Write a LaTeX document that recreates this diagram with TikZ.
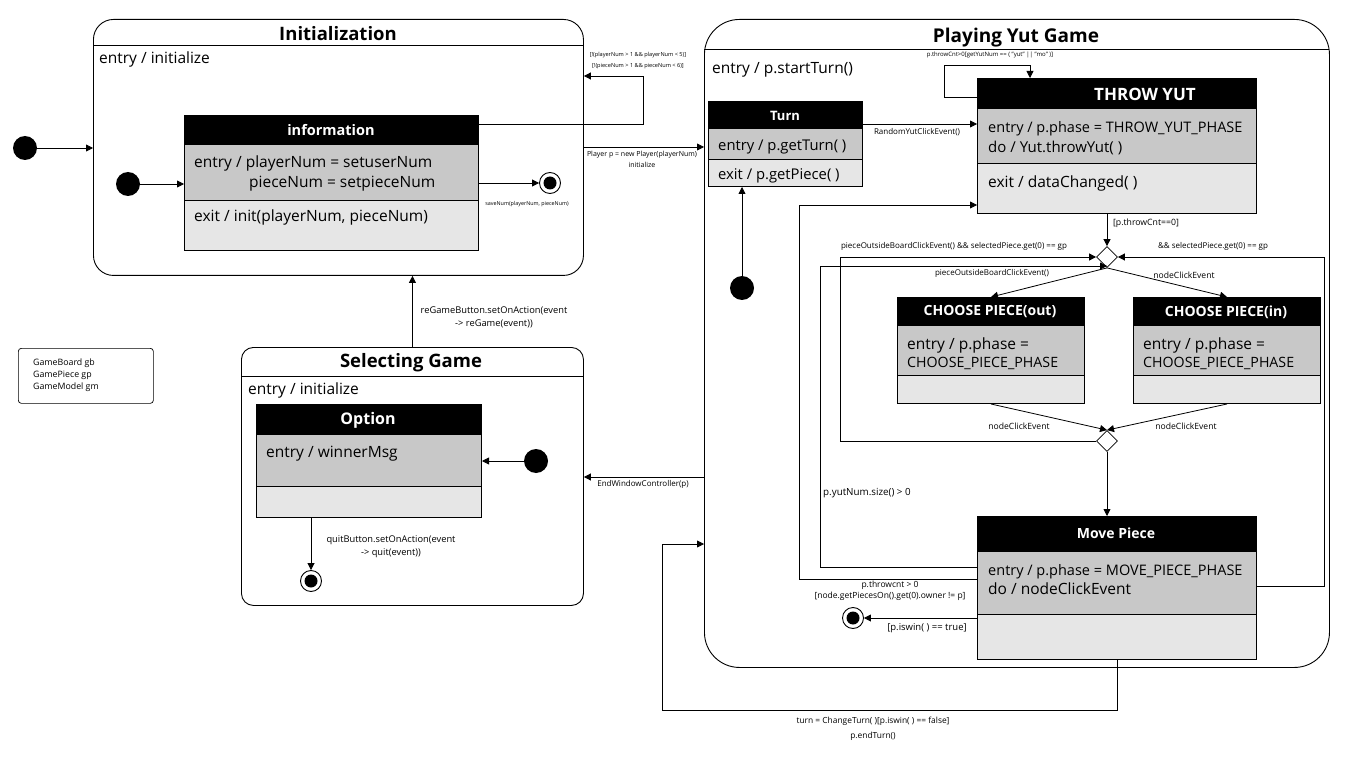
\documentclass[tikz,border=0pt]{standalone}
\usepackage{fontspec}
\setmainfont{Open Sans}
\usetikzlibrary{arrows.meta,calc,shapes.geometric}
\definecolor{midg}{RGB}{200,200,200}
\definecolor{lightg}{RGB}{230,230,230}
\newcommand\umlbox[7]{%
  \fill[black] (#2,#3) rectangle ++(#4,#5);
  \fill[midg] (#2,#3+#5) rectangle ++(#4,#6);
  \fill[lightg] (#2,#3+#5+#6) rectangle ++(#4,#7);
  \draw[line width=0.8pt] (#2,#3+#5+#6) -- ++(#4,0);
  \node[draw, line width=1pt, inner sep=0, minimum width=#4, minimum height=#5+#6+#7, anchor=north west] (#1) at (#2,#3) {};
}
\tikzset{
  arr/.style={line width=0.8pt,-{Triangle[length=7pt,width=7pt]}},
  ln/.style={line width=0.8pt},
  bigstate/.style={draw, line width=0.9pt, fill=white, inner sep=0, anchor=north west},
  ttl/.style={font=\fontsize{18.5}{20}\selectfont\bfseries, inner sep=0, yshift=-1pt},
  body/.style={font=\fontsize{15.5}{17}\selectfont, anchor=west, inner sep=0, yshift=-2.5pt},
  capsbody/.style={body, font=\fontsize{14.5}{17}\selectfont},
  lbl/.style={font=\fontsize{8}{9.6}\selectfont, inner sep=0, align=center},
  tinylbl/.style={font=\fontsize{5.6}{6.5}\selectfont, inner sep=0, align=center},
  hdrtext/.style={text=white, inner sep=0},
  initdot/.style={circle, fill=black, minimum size=24pt, inner sep=0},
  finalst/.style={circle, draw, line width=0.9pt, fill=white, minimum size=21pt, inner sep=0,
    path picture={\fill[black] (path picture bounding box.center) circle (6.5pt);}},
  choice/.style={diamond, draw, line width=0.8pt, fill=white, minimum size=21pt, inner sep=0},
}
\begin{document}
\begin{tikzpicture}[x=1pt,y=-1pt]
\fill[white] (0,0) rectangle (1365,767);
\useasboundingbox (0,0) rectangle (1365,767);

% ---------- Initialization ----------
\node[bigstate, rounded corners=20pt, minimum width=490, minimum height=256] (init) at (93,19) {};
\draw[ln] (93,45) -- (583,45);
\node[ttl] (initT) at (338,33) {Initialization};
\node[body] (initE) at (99,57) {entry / initialize};
\umlbox{info}{184}{115}{294}{30}{55}{50}
\node[hdrtext, font=\fontsize{14.5}{16}\selectfont\bfseries] (infoT) at (331,130) {information};
\node[body] (infoE1) at (194,161) {entry / playerNum = setuserNum};
\node[body] (infoE2) at (249,181) {pieceNum = setpieceNum};
\node[body] (infoX) at (194,215) {exit / init(playerNum, pieceNum)};
\node[initdot] (i1) at (25,148) {};
\node[initdot] (i2) at (128,184) {};
\node[finalst] (f1) at (550,183) {};
\node[tinylbl, font=\fontsize{5.4}{6.5}\selectfont] (lsave) at (527,204) {saveNum(playerNum, pieceNum)};

% ---------- Selecting Game ----------
\node[bigstate, rounded corners=12pt, minimum width=342, minimum height=258] (sel) at (241,347) {};
\draw[ln] (241,376) -- (583,376);
\node[ttl] (selT) at (411,362) {Selecting Game};
\node[body] (selE) at (248,388) {entry / initialize};
\umlbox{opt}{256}{404}{225}{31}{51}{31}
\node[hdrtext, font=\fontsize{16}{18}\selectfont\bfseries] (optT) at (368,420) {Option};
\node[body] (optE) at (266,451) {entry / winnerMsg};
\node[initdot] (i4) at (536,461) {};
\node[finalst] (f4) at (311,581) {};
\node[lbl, font=\fontsize{9.3}{13}\selectfont] (lquit) at (391,547) {quitButton.setOnAction(event\\ -> quit(event))};

% ---------- legend ----------
\node[draw, line width=0.7pt, rounded corners=3pt, minimum width=135, minimum height=55, anchor=north west, inner sep=0] (legend) at (18,348) {};
\node[font=\fontsize{8.8}{12}\selectfont, align=left, anchor=north west, inner sep=0] (legendT) at (33,359) {GameBoard gb\\GamePiece gp\\GameModel gm};

% ---------- Playing Yut Game ----------
\node[bigstate, rounded corners=35pt, minimum width=625, minimum height=648] (play) at (704,19) {};
\draw[ln] (704,49) -- (1329,49);
\node[ttl, font=\fontsize{19}{21}\selectfont\bfseries] (playT) at (1016,37) {Playing Yut Game};
\node[body] (playE) at (712,67) {entry / p.startTurn()};

\umlbox{turn}{708}{101}{154}{28}{30}{27}
\node[hdrtext, font=\fontsize{13}{15}\selectfont\bfseries] (turnT) at (785,116) {Turn};
\node[body, font=\fontsize{14.8}{17}\selectfont] (turnE) at (718,144) {entry / p.getTurn( )};
\node[body, font=\fontsize{14.8}{17}\selectfont] (turnX) at (718,173) {exit / p.getPiece( )};
\node[initdot] (i3) at (742,288) {};

\umlbox{throw}{977}{78}{279}{31}{54}{50}
\node[hdrtext, font=\fontsize{17}{19}\selectfont\bfseries] (throwT) at (1145,94) {THROW YUT};
\node[capsbody] (throwE) at (988,126) {entry / p.phase = THROW\_YUT\_PHASE};
\node[body, font=\fontsize{15}{17}\selectfont] (throwD) at (988,145) {do / Yut.throwYut( )};
\node[body] (throwX) at (988,181) {exit / dataChanged( )};

\umlbox{cout}{897}{297}{187}{29}{49}{28}
\node[hdrtext, font=\fontsize{14}{16}\selectfont\bfseries] (coutT) at (990,312) {CHOOSE PIECE(out)};
\node[body] (coutE1) at (907,343) {entry / p.phase =};
\node[capsbody, font=\fontsize{14.2}{17}\selectfont] (coutE2) at (907,361) {CHOOSE\_PIECE\_PHASE};

\umlbox{cin}{1133}{297}{187}{29}{49}{28}
\node[hdrtext, font=\fontsize{14}{16}\selectfont\bfseries] (cinT) at (1226,312) {CHOOSE PIECE(in)};
\node[body] (cinE1) at (1143,343) {entry / p.phase =};
\node[capsbody, font=\fontsize{14.2}{17}\selectfont] (cinE2) at (1143,361) {CHOOSE\_PIECE\_PHASE};

\umlbox{move}{977}{516}{279}{36}{62}{45}
\node[hdrtext, font=\fontsize{14}{16}\selectfont\bfseries] (moveT) at (1116,533) {Move Piece};
\node[capsbody] (moveE) at (988,569) {entry / p.phase = MOVE\_PIECE\_PHASE};
\node[body] (moveD) at (988,586) {do / nodeClickEvent};
\node[finalst] (f3) at (853,618) {};

\node[choice] (d1) at (1107,257) {};
\node[choice] (d2) at (1107,441) {};

% ---------- coordinates ----------
\coordinate (c1a) at (643,124);
\coordinate (c1b) at (643,76);
\coordinate (c2) at (640,147);
\coordinate (c3) at (920,124);
\coordinate (c4a) at (944,97);
\coordinate (c4b) at (944,65);
\coordinate (c4c) at (1030,65);
\coordinate (c5) at (840,257);
\coordinate (c6a) at (820,567);
\coordinate (c6b) at (820,266);
\coordinate (c7a) at (1324,586);
\coordinate (c7b) at (1324,257);
\coordinate (c8a) at (799,579);
\coordinate (c8b) at (799,205);
\coordinate (c9a) at (1117,710);
\coordinate (c9b) at (662,710);
\coordinate (c9c) at (662,544);
\coordinate (c10) at (640,477);

% ---------- connectors ----------
\draw[arr] (i1) -- (init.west |- i1);
\draw[arr] (i2) -- (info.west |- i2);
\draw[arr] (info.east |- f1) -- (f1);
\draw[arr] (info.east |- c1a) -- (c1a) -- (c1b) -- (init.east |- c1b);
\draw[arr] (init.east |- c2) -- (play.west |- c2);
\draw[arr] (sel.north) -- (sel.north |- init.south);
\draw[arr] (i4) -- (opt.east |- i4);
\draw[arr] (opt.south -| f4) -- (f4);
\draw[arr] (play.west |- c10) -- (sel.east |- c10);

\draw[arr] (i3) -- (i3 |- turn.south);
\draw[arr] (turn.east |- c3) -- (throw.west |- c3);
\draw[arr] (throw.west |- c4a) -- (c4a) -- (c4b) -- (c4c) -- (c4c |- throw.north);
\draw[arr] (throw.south -| d1) -- (d1);
\draw[arr] (d1.south) -- (cout.north);
\draw[arr] (d1.south) -- (cin.north);
\draw[arr] (cout.south) -- (d2.north);
\draw[arr] (cin.south) -- (d2.north);
\draw[arr] (d2.south) -- (d2.south |- move.north);
\draw[arr] (d2.west) -- (d2.west -| c5) -- (c5) -- (d1.west);
\draw[arr] (move.west |- c6a) -- (c6a) -- (c6b) -- (c6b -| d1.south);
\draw[arr] (move.east |- c7a) -- (c7a) -- (c7b) -- (d1.east);
\draw[arr] (move.west |- c8a) -- (c8a) -- (c8b) -- (throw.west |- c8b);
\draw[arr] (move.west |- f3) -- (f3);
\draw[arr] (move.south -| c9a) -- (c9a) -- (c9b) -- (c9c) -- (play.west |- c9c);

% ---------- labels ----------
\node[tinylbl] (lguard1) at (638,55) {[!(playerNum > 1 \&\& playerNum < 5)]};
\node[tinylbl] (lguard2) at (638,66) {[!(pieceNum > 1 \&\& pieceNum < 6)]};
\node[lbl, font=\fontsize{7}{11}\selectfont] (lplayer) at (642,159) {Player p = new Player(playerNum)\\initialize};
\node[lbl, font=\fontsize{9.3}{13}\selectfont] (lregame) at (494,317) {reGameButton.setOnAction(event\\ -> reGame(event))};
\node[lbl] (lend) at (643,484) {EndWindowController(p)};
\node[lbl] (lrandom) at (917,132) {RandomYutClickEvent()};
\node[lbl, font=\fontsize{6}{7}\selectfont] (lthrowloop) at (990,55) {p.throwCnt>0[getYutNum == ( "yut" || "mo" )]};
\node[lbl, font=\fontsize{8.7}{10}\selectfont] (lcnt0) at (1146,223) {[p.throwCnt==0]};
\node[lbl] (lpo1) at (954,246) {pieceOutsideBoardClickEvent() \&\& selectedPiece.get(0) == gp};
\node[lbl] (lsel) at (1213,246) {\&\& selectedPiece.get(0) == gp};
\node[lbl] (lpo2) at (992,273) {pieceOutsideBoardClickEvent()};
\node[lbl, font=\fontsize{8.6}{10}\selectfont] (lnode1) at (1184,275) {nodeClickEvent};
\node[lbl, font=\fontsize{8.6}{10}\selectfont] (lnode2) at (1019,426) {nodeClickEvent};
\node[lbl, font=\fontsize{8.6}{10}\selectfont] (lnode3) at (1186,426) {nodeClickEvent};
\node[lbl, font=\fontsize{9.8}{11}\selectfont, anchor=west] (lyut) at (823,493) {p.yutNum.size() > 0};
\node[lbl, font=\fontsize{8.5}{11}\selectfont] (lthrowcnt) at (890,591) {p.throwcnt > 0\\{}[node.getPiecesOn().get(0).owner != p]};
\node[lbl, font=\fontsize{9.5}{11}\selectfont] (lwin) at (927,628) {[p.iswin( ) == true]};
\node[lbl, font=\fontsize{8.4}{15}\selectfont] (lturn) at (873,729) {turn = ChangeTurn( )[p.iswin( ) == false]\\p.endTurn()};
\end{tikzpicture}
\end{document}
